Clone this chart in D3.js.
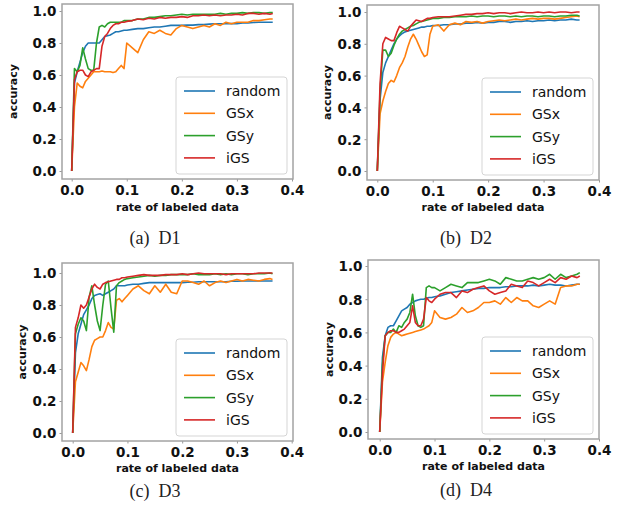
<!DOCTYPE html>
<html>
<head>
<meta charset="utf-8">
<script src="https://cdn.jsdelivr.net/npm/d3@7"></script>
<style>
  body { margin: 0; background: #fff; }
  svg { display: block; }
</style>
</head>
<body>
<div id="chart"></div>
<script>
// rate of labeled data (shared x values)
const xs = [0, 0.005, 0.01, 0.015, 0.02, 0.025, 0.03, 0.035, 0.04, 0.045, 0.05, 0.055, 0.06, 0.065, 0.07, 0.075, 0.08, 0.085, 0.09, 0.095, 0.1,
  0.11, 0.12, 0.13, 0.14, 0.15, 0.16, 0.17, 0.18, 0.19, 0.2, 0.21, 0.22, 0.23, 0.24, 0.25, 0.26, 0.27, 0.28, 0.29, 0.3,
  0.31, 0.32, 0.33, 0.34, 0.35, 0.36, 0.365];

const seriesNames = ["random", "GSx", "GSy", "iGS"];
const colors = ["#1f77b4", "#ff7f0e", "#2ca02c", "#d62728"];
const xTicks = [0, 0.1, 0.2, 0.3, 0.4];
const yTicks = [0, 0.2, 0.4, 0.6, 0.8, 1.0];
const captions = ["(a)", "(b)", "(c)", "(d)"];
const datasets = ["D1", "D2", "D3", "D4"];

// D1
const d1Random = [0, .55, .62, .68, .74, .78, .80, .80, .80, .80, .80, .82, .84, .845, .85, .86, .87, .87, .875, .88, .88,
  .885, .89, .89, .895, .90, .90, .905, .91, .91, .91, .912, .912, .915, .915, .918, .92, .92, .92, .922, .92, .925, .925, .928, .93, .93, .93, .93];
const d1GSx = [0, .40, .55, .53, .52, .56, .58, .60, .62, .62, .62, .625, .62, .62, .62, .615, .62, .64, .66, .64, .80,
  .77, .74, .82, .87, .86, .88, .86, .85, .89, .91, .90, .89, .90, .91, .90, .92, .91, .93, .92, .93, .93, .93, .94, .94, .945, .95, .95];
const d1GSy = [0, .64, .62, .66, .77, .70, .64, .63, .63, .80, .90, .91, .90, .92, .93, .93, .93, .93, .93, .94, .94,
  .94, .95, .95, .96, .96, .965, .97, .97, .975, .98, .975, .98, .98, .98, .98, .98, .985, .98, .985, .985, .99, .985, .99, .99, .985, .99, .99];
const d1IGS = [0, .57, .62, .63, .63, .60, .59, .62, .63, .64, .64, .78, .84, .86, .89, .91, .92, .92, .93, .93, .935,
  .94, .95, .945, .955, .95, .96, .955, .96, .96, .965, .96, .97, .97, .975, .97, .975, .97, .975, .975, .98, .975, .985, .985, .98, .985, .98, .985];

// D2
const d2Random = [0, .45, .62, .68, .72, .76, .80, .83, .85, .865, .875, .88, .885, .89, .895, .90, .905, .905, .91, .91, .915,
  .915, .92, .92, .925, .925, .93, .93, .935, .93, .935, .935, .94, .94, .935, .94, .94, .945, .94, .945, .945, .95, .945, .95, .95, .955, .95, .95];
const d2GSx = [0, .36, .44, .50, .55, .57, .56, .60, .65, .68, .72, .78, .83, .86, .83, .79, .75, .72, .73, .86, .91,
  .92, .88, .92, .93, .92, .94, .935, .94, .93, .94, .945, .95, .945, .95, .955, .95, .955, .96, .955, .96, .96, .955, .96, .965, .97, .975, .97];
const d2GSy = [0, .50, .76, .76, .72, .74, .79, .83, .86, .88, .89, .90, .91, .915, .925, .935, .94, .945, .95, .955, .96,
  .96, .965, .965, .97, .97, .97, .975, .97, .975, .975, .97, .975, .975, .97, .975, .97, .975, .975, .97, .975, .975, .97, .975, .975, .98, .98, .975];
const d2IGS = [0, .55, .80, .84, .83, .82, .82, .87, .91, .90, .89, .88, .91, .93, .95, .945, .94, .95, .96, .96, .965,
  .97, .97, .97, .975, .98, .985, .985, .99, .99, .995, .99, .995, .995, .99, .995, 1.0, .995, .995, 1.0, .995, 1.0, .995, 1.0, 1.0, .995, 1.0, 1.0];

// D3
const d3Random = [0, .50, .62, .68, .74, .77, .80, .84, .86, .865, .87, .86, .87, .88, .89, .90, .92, .92, .92, .92, .925,
  .93, .93, .935, .94, .94, .94, .94, .94, .94, .94, .942, .942, .945, .945, .945, .945, .945, .945, .948, .948, .95, .95, .95, .95, .95, .95, .95];
const d3GSx = [0, .32, .38, .44, .42, .39, .46, .54, .58, .59, .60, .60, .64, .69, .66, .65, .83, .84, .82, .84, .86,
  .90, .92, .89, .87, .92, .88, .93, .88, .87, .95, .95, .94, .93, .95, .92, .94, .95, .94, .95, .96, .95, .96, .955, .95, .96, .965, .96];
const d3GSy = [0, .62, .68, .72, .70, .64, .85, .92, .80, .70, .64, .80, .93, .95, .78, .63, .92, .94, .95, .96, .965,
  .97, .975, .98, .985, .98, .985, .985, .99, .99, .99, .99, .995, .99, .99, .99, .995, .99, .995, .99, .995, .995, .99, .995, .995, .995, 1.0, .995];
const d3IGS = [0, .66, .72, .80, .78, .80, .85, .90, .93, .91, .90, .93, .94, .945, .95, .955, .96, .96, .97, .97, .975,
  .98, .985, .99, .985, .985, .985, .99, .99, .99, .995, .99, .995, 1.0, .995, .995, .995, .995, .99, .995, .995, .995, .995, .995, 1.0, 1.0, 1.0, 1.0];

// D4
const d4Random = [0, .45, .58, .63, .64, .64, .67, .70, .73, .74, .75, .77, .78, .79, .795, .80, .80, .805, .81, .81, .815,
  .82, .83, .84, .845, .85, .855, .86, .865, .865, .87, .87, .87, .875, .875, .88, .88, .88, .885, .88, .885, .89, .885, .885, .88, .885, .89, .89];
const d4GSx = [0, .30, .42, .52, .57, .59, .60, .59, .58, .585, .59, .595, .60, .605, .61, .615, .62, .63, .64, .66, .73,
  .69, .68, .69, .71, .75, .72, .73, .75, .78, .78, .79, .77, .81, .78, .81, .79, .79, .76, .75, .77, .79, .77, .87, .88, .88, .89, .89];
const d4GSy = [0, .40, .58, .60, .60, .62, .60, .64, .63, .66, .68, .72, .83, .70, .64, .63, .64, .87, .88, .87, .87,
  .85, .87, .89, .88, .87, .90, .90, .90, .91, .92, .91, .89, .93, .92, .91, .91, .92, .93, .92, .93, .95, .92, .95, .93, .94, .95, .96];
const d4IGS = [0, .35, .58, .60, .61, .61, .60, .60, .61, .62, .64, .66, .76, .66, .64, .64, .68, .81, .79, .78, .80,
  .83, .84, .84, .81, .85, .84, .86, .87, .88, .85, .83, .84, .85, .89, .88, .87, .91, .90, .88, .90, .92, .90, .93, .92, .94, .93, .94];

const panelSeries = [
  [d1Random, d1GSx, d1GSy, d1IGS],
  [d2Random, d2GSx, d2GSy, d2IGS],
  [d3Random, d3GSx, d3GSy, d3IGS],
  [d4Random, d4GSx, d4GSy, d4IGS]
];

// pixel layout of each sub-figure (frame, where 0 / 0.4 and 0 / 1 land, label spots)
const layout = [
  {left: 62, right: 293, top: 4, bottom: 179, x0: 71.7, x4: 292, y0: 171, y1: 11, ylabX: 13, xlabY: 207, capX: 155, capY: 238},
  {left: 367, right: 599, top: 5, bottom: 180, x0: 377.3, x4: 599, y0: 171, y1: 12, ylabX: 327, xlabY: 207, capX: 466, capY: 238},
  {left: 62, right: 293, top: 263, bottom: 441, x0: 72.7, x4: 291.7, y0: 433, y1: 273, ylabX: 22, xlabY: 468, capX: 155, capY: 491},
  {left: 368, right: 599, top: 260, bottom: 439, x0: 379.7, x4: 599, y0: 432, y1: 266, ylabX: 329, xlabY: 466, capX: 466, capY: 490}
];

const svg = d3.select("#chart").append("svg")
  .attr("width", 628)
  .attr("height", 513);

const tickFont = "'DejaVu Sans', sans-serif";

layout.forEach((p, k) => {
  const x = d3.scaleLinear().domain([0, 0.4]).range([p.x0, p.x4]);
  const y = d3.scaleLinear().domain([0, 1]).range([p.y0, p.y1]);
  const g = svg.append("g");

  // clip to the frame
  const clipId = "clip" + k;
  g.append("clipPath").attr("id", clipId)
    .append("rect")
    .attr("x", p.left).attr("y", p.top)
    .attr("width", p.right - p.left).attr("height", p.bottom - p.top);

  // y axis
  const yAxis = g.append("g")
    .attr("transform", `translate(${p.left},0)`)
    .call(d3.axisLeft(y).tickValues(yTicks).tickFormat(d3.format(".1f")).tickSize(2.5).tickPadding(3));
  // x axis
  const xAxis = g.append("g")
    .attr("transform", `translate(0,${p.bottom})`)
    .call(d3.axisBottom(x).tickValues(xTicks).tickFormat(d3.format(".1f")).tickSize(2.5).tickPadding(4));

  [xAxis, yAxis].forEach(ax => {
    ax.select(".domain").remove();
    ax.selectAll(".tick line").attr("stroke", "#999").attr("stroke-width", 1);
    ax.selectAll(".tick text")
      .attr("fill", "#111")
      .style("font-family", tickFont)
      .style("font-weight", "bold")
      .style("font-size", "13.5px");
  });
  yAxis.selectAll(".tick text").attr("dy", "0.36em");

  // lines
  const line = d3.line()
    .x((d, i) => x(xs[i]))
    .y(d => y(d));

  const lines = g.append("g").attr("clip-path", `url(#${clipId})`);
  panelSeries[k].forEach((vals, s) => {
    lines.append("path")
      .datum(vals)
      .attr("fill", "none")
      .attr("stroke", colors[s])
      .attr("stroke-width", 1.6)
      .attr("stroke-linejoin", "round")
      .attr("d", line);
  });

  // frame
  g.append("rect")
    .attr("x", p.left).attr("y", p.top)
    .attr("width", p.right - p.left).attr("height", p.bottom - p.top)
    .attr("fill", "none")
    .attr("stroke", "#a3a3a3")
    .attr("stroke-width", 1.5);

  // legend (lower right)
  const lw = 111, lh = 97;
  const lx = p.right - 6 - lw, ly = p.bottom - 5 - lh;
  const leg = g.append("g").attr("transform", `translate(${lx},${ly})`);
  leg.append("rect")
    .attr("width", lw).attr("height", lh)
    .attr("rx", 3)
    .attr("fill", "#fff")
    .attr("fill-opacity", 0.8)
    .attr("stroke", "#d5d5d5")
    .attr("stroke-width", 1);
  seriesNames.forEach((name, s) => {
    const cy = 14 + s * 22.3;
    leg.append("line")
      .attr("x1", 8).attr("x2", 39)
      .attr("y1", cy).attr("y2", cy)
      .attr("stroke", colors[s])
      .attr("stroke-width", 1.6);
    leg.append("text")
      .attr("x", 50).attr("y", cy + 5)
      .style("font-family", tickFont)
      .style("font-size", "14px")
      .attr("fill", "#111")
      .text(name);
  });

  // axis titles
  g.append("text")
    .attr("transform", `translate(${p.ylabX},${(p.top + p.bottom) / 2}) rotate(-90)`)
    .attr("text-anchor", "middle")
    .attr("dy", "0.35em")
    .style("font-family", tickFont)
    .style("font-weight", "bold")
    .style("font-size", "11px")
    .attr("fill", "#111")
    .text("accuracy");

  g.append("text")
    .attr("x", (p.left + p.right) / 2)
    .attr("y", p.xlabY)
    .attr("text-anchor", "middle")
    .attr("dy", "0.35em")
    .style("font-family", tickFont)
    .style("font-weight", "bold")
    .style("font-size", "11px")
    .attr("fill", "#111")
    .text("rate of labeled data");

  // sub-figure caption
  g.append("text")
    .attr("x", p.capX)
    .attr("y", p.capY)
    .attr("text-anchor", "middle")
    .attr("dy", "0.35em")
    .style("font-family", "'Liberation Serif', 'Times New Roman', serif")
    .style("font-size", "18px")
    .attr("fill", "#222")
    .text(captions[k] + "\u2002" + datasets[k]);
});
</script>
</body>
</html>
